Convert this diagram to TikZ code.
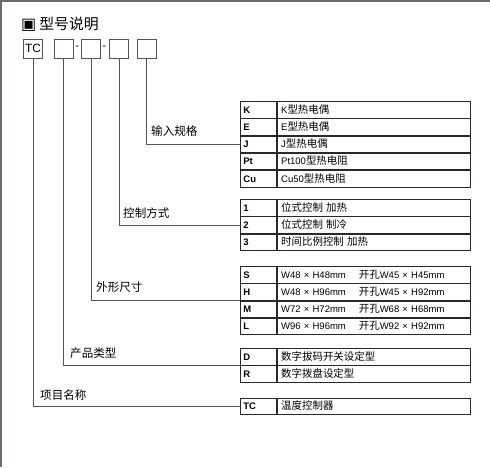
\documentclass[tikz,border=0pt]{standalone}
\usepackage{fontspec}
\setmainfont{Liberation Sans}
\newfontfamily\cjk[Scale=1.1]{Noto Sans CJK SC}
\newfontfamily\symfont{DejaVu Sans}
\usetikzlibrary{positioning}
\definecolor{framegray}{RGB}{112,106,104}
\definecolor{linegray}{RGB}{88,82,80}
\definecolor{tabledark}{RGB}{45,40,38}
\newcommand{\zh}[1]{{\cjk #1}}

\begin{document}
\begin{tikzpicture}[
    x=1pt, y=-1pt,
    topbox/.style={draw=linegray, line width=0.8pt, minimum width=19pt, minimum height=19pt, inner sep=0pt, font=\fontsize{12}{14}\selectfont},
    codecell/.style={draw=tabledark, line width=0.8pt, anchor=north west, minimum height=16.5pt, text width=30pt, inner xsep=3pt, inner ysep=0pt, text height=8.8pt, text depth=2pt, align=left, font=\bfseries\fontsize{9.5}{11}\selectfont},
    desccell/.style={draw=tabledark, line width=0.8pt, minimum height=16.5pt, text width=185pt, inner xsep=4pt, inner ysep=0pt, text height=8.8pt, text depth=2pt, align=left, font=\fontsize{9.5}{11}\selectfont},
    partlabel/.style={anchor=west, inner sep=0pt, font=\fontsize{10.5}{12}\selectfont},
    conn/.style={draw=linegray, line width=0.9pt}
]
\useasboundingbox (0,0) rectangle (490,467);

% frame
\draw[framegray, line width=1.5pt] (0.75,467) -- (0.75,0.75) -- (490,0.75);

% title
\node[anchor=west, inner sep=0pt, font=\fontsize{13.5}{16}\selectfont] (title) at (21,24.5) {{\symfont\fontsize{16}{16}\selectfont ▣}\hspace{3pt}\zh{型号说明}};

% model code boxes
\node[topbox] (tcbox) at (33,48.5) {TC};
\node[topbox] (b2) at (63.5,48.5) {};
\node[topbox, right=8pt of b2] (b3) {};
\node[topbox, right=8pt of b3] (b4) {};
\node[topbox, right=8pt of b4] (b5) {};
\node[inner sep=0pt, font=\fontsize{11}{12}\selectfont] (dash1) at (77.3,47.5) {-};
\node[inner sep=0pt, font=\fontsize{11}{12}\selectfont] (dash2) at (104.3,47.5) {-};

% input spec table
\node[codecell] (k) at (240,101) {K};
\node[desccell, right=0pt of k] (kd) {K\zh{型热电偶}};
\node[codecell, below=0pt of k] (e) {E};
\node[desccell, right=0pt of e] (ed) {E\zh{型热电偶}};
\node[codecell, below=0pt of e] (j) {J};
\node[desccell, right=0pt of j] (jd) {J\zh{型热电偶}};
\node[codecell, below=0pt of j] (pt) {Pt};
\node[desccell, right=0pt of pt] (ptd) {Pt100\zh{型热电阻}};
\node[codecell, below=0pt of pt] (cu) {Cu};
\node[desccell, right=0pt of cu] (cud) {Cu50\zh{型热电阻}};

% control mode table
\node[codecell] (one) at (240,199) {1};
\node[desccell, right=0pt of one] (oned) {\zh{位式控制 加热}};
\node[codecell, below=0pt of one] (two) {2};
\node[desccell, right=0pt of two] (twod) {\zh{位式控制 制冷}};
\node[codecell, below=0pt of two] (three) {3};
\node[desccell, right=0pt of three] (threed) {\zh{时间比例控制 加热}};

% size table
\node[codecell] (s) at (240,266) {S};
\node[desccell, right=0pt of s] (sd) {W48 × H48mm\hspace{13pt}\zh{开孔}W45 × H45mm};
\node[codecell, below=0pt of s] (h) {H};
\node[desccell, right=0pt of h] (hd) {W48 × H96mm\hspace{13pt}\zh{开孔}W45 × H92mm};
\node[codecell, below=0pt of h] (m) {M};
\node[desccell, right=0pt of m] (md) {W72 × H72mm\hspace{13pt}\zh{开孔}W68 × H68mm};
\node[codecell, below=0pt of m] (l) {L};
\node[desccell, right=0pt of l] (ld) {W96 × H96mm\hspace{13pt}\zh{开孔}W92 × H92mm};

% product type table
\node[codecell] (d) at (240,348) {D};
\node[desccell, right=0pt of d] (dd) {\zh{数字拔码开关设定型}};
\node[codecell, below=0pt of d] (r) {R};
\node[desccell, right=0pt of r] (rd) {\zh{数字拨盘设定型}};

% item name table
\node[codecell] (tc) at (240,397.5) {TC};
\node[desccell, right=0pt of tc] (tcd) {\zh{温度控制器}};

% connectors
\draw[conn] (b5.south) |- (j.west);
\draw[conn] (b4.south) |- (two.west);
\draw[conn] (b3.south) |- (h.south west);
\draw[conn] (b2.south) |- (d.south west);
\draw[conn] (tcbox.south) |- (tc.west);

% labels
\node[partlabel] (inlabel) at (151,131) {\zh{输入规格}};
\node[partlabel] (ctrllabel) at (123,213) {\zh{控制方式}};
\node[partlabel] (sizelabel) at (96,287.5) {\zh{外形尺寸}};
\node[partlabel] (typelabel) at (70,353) {\zh{产品类型}};
\node[partlabel] (namelabel) at (40,395) {\zh{项目名称}};

\end{tikzpicture}
\end{document}
